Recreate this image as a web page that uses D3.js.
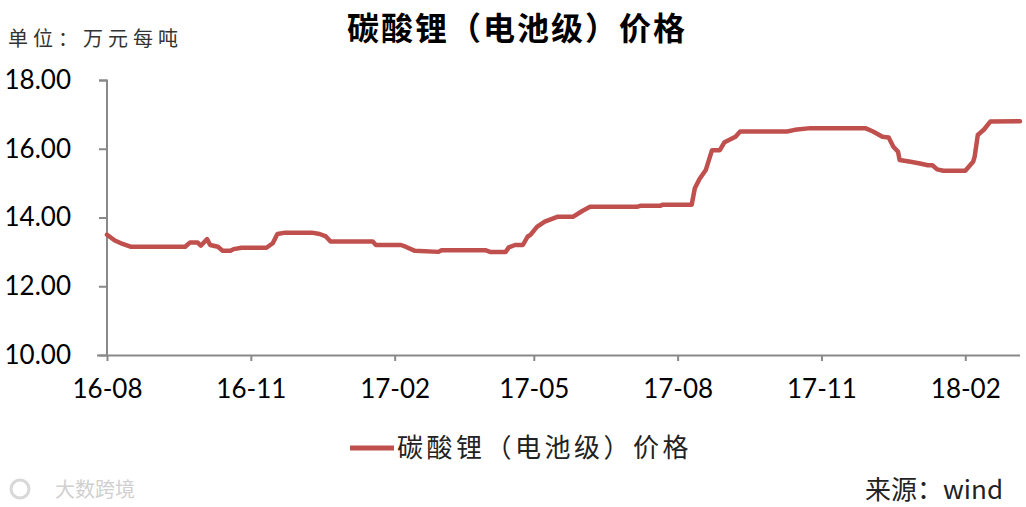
<!DOCTYPE html>
<html lang="zh">
<head>
<meta charset="UTF-8">
<title>碳酸锂（电池级）价格</title>
<script src="https://d3js.org/d3.v7.min.js"></script>
<style>
    body { margin: 0; background: #fff; }
    svg { display: block; }
    .tick-label { font-family: Lato, "Noto Sans", sans-serif; font-size: 26px; fill: #000; }
    .cjk { font-family: "Noto Sans CJK SC", sans-serif; }
</style>
</head>
<body>
<svg id="chart" width="1026" height="507"></svg>
<script>
// price of battery-grade lithium carbonate, 万元/吨
var dates = ["2016-08-01","2016-08-06","2016-08-11","2016-08-16","2016-09-20","2016-09-23","2016-09-28","2016-09-30",
    "2016-10-04","2016-10-06","2016-10-11","2016-10-14","2016-10-19","2016-10-21","2016-10-26","2016-11-11",
    "2016-11-15","2016-11-18","2016-11-23","2016-12-10","2016-12-15","2016-12-19","2016-12-22","2017-01-18",
    "2017-01-20","2017-02-05","2017-02-08","2017-02-14","2017-03-01","2017-03-03","2017-03-31","2017-04-03",
    "2017-04-13","2017-04-15","2017-04-19","2017-04-24","2017-04-27","2017-04-29","2017-05-03","2017-05-08",
    "2017-05-16","2017-05-26","2017-06-01","2017-06-06","2017-07-06","2017-07-08","2017-07-21","2017-07-22",
    "2017-08-10","2017-08-12","2017-08-15","2017-08-19","2017-08-23","2017-08-28","2017-08-31","2017-09-07",
    "2017-09-10","2017-10-10","2017-10-15","2017-10-25","2017-11-29","2017-12-04","2017-12-10","2017-12-14",
    "2017-12-17","2017-12-20","2017-12-21","2017-12-28","2018-01-03","2018-01-08","2018-01-11","2018-01-14",
    "2018-01-18","2018-02-01","2018-02-06","2018-02-07","2018-02-09","2018-02-13","2018-02-17","2018-03-08"];
var prices = [13.50,13.33,13.23,13.15,13.15,13.27,13.27,13.18,
    13.37,13.20,13.15,13.03,13.03,13.08,13.12,13.12,
    13.25,13.52,13.56,13.56,13.52,13.45,13.30,13.30,
    13.20,13.20,13.15,13.03,13.00,13.05,13.05,13.00,
    13.00,13.13,13.20,13.20,13.44,13.50,13.73,13.88,
    14.02,14.02,14.19,14.31,14.31,14.34,14.34,14.37,
    14.37,14.85,15.12,15.38,15.96,15.96,16.19,16.35,
    16.50,16.50,16.55,16.60,16.60,16.50,16.35,16.33,
    16.06,15.91,15.67,15.62,15.57,15.52,15.52,15.40,
    15.36,15.36,15.62,15.77,16.40,16.56,16.79,16.80];
var yTicks = [10, 12, 14, 16, 18];
var xTickLabels = ["16-08","16-11","17-02","17-05","17-08","17-11","18-02"];
var seriesName = "碳酸锂（电池级）价格";

var parse = d3.timeParse("%Y-%m-%d");
var data = dates.map(function(d, i) { return { date: parse(d), value: prices[i] }; });

var svg = d3.select("#chart");
var lineColor = "#C0504D", axisColor = "#898989";

var x = d3.scaleTime()
    .domain([parse("2016-08-01"), parse("2018-03-08")])
    .range([107, 1020]);
var y = d3.scaleLinear().domain([10, 18]).range([355, 80]);

var xTicks = xTickLabels.map(function(s) { return parse("20" + s + "-01"); });

// x axis
var xAxis = svg.append("g")
    .attr("transform", "translate(0,355)")
    .call(d3.axisBottom(x).tickValues(xTicks).tickSize(6).tickPadding(19)
        .tickFormat(function(d, i) { return xTickLabels[i]; }));
xAxis.select(".domain").attr("d", "M97,0.5H1020").attr("stroke", axisColor).attr("stroke-width", 2);
xAxis.selectAll(".tick line").attr("stroke", axisColor).attr("stroke-width", 2);
xAxis.selectAll(".tick text").attr("class", "tick-label");

// y axis
var yAxis = svg.append("g")
    .attr("transform", "translate(107,0)")
    .call(d3.axisLeft(y).tickValues(yTicks).tickSize(8).tickPadding(28)
        .tickFormat(d3.format(".2f")));
yAxis.select(".domain").attr("d", "M-8,80.5H0V355").attr("stroke", axisColor).attr("stroke-width", 2);
yAxis.selectAll(".tick line").attr("stroke", axisColor).attr("stroke-width", 2);
yAxis.selectAll(".tick text").attr("class", "tick-label");

// series
var line = d3.line()
    .x(function(d) { return x(d.date); })
    .y(function(d) { return y(d.value); });
svg.append("path")
    .datum(data)
    .attr("d", line)
    .attr("fill", "none")
    .attr("stroke", lineColor)
    .attr("stroke-width", 4.5)
    .attr("stroke-linejoin", "round")
    .attr("stroke-linecap", "round");

// titles
svg.append("text").attr("class", "cjk")
    .attr("x", 517).attr("y", 40)
    .attr("text-anchor", "middle")
    .style("font-size", "32px").style("font-weight", "bold").style("letter-spacing", "2px")
    .text(seriesName);
svg.append("text").attr("class", "cjk")
    .attr("x", 8).attr("y", 46)
    .style("font-size", "20px").style("letter-spacing", "5px").attr("fill", "#333")
    .text("单位：万元每吨");

// legend
svg.append("line")
    .attr("x1", 350).attr("x2", 394).attr("y1", 448).attr("y2", 448)
    .attr("stroke", lineColor).attr("stroke-width", 5);
svg.append("text").attr("class", "cjk")
    .attr("x", 397).attr("y", 457)
    .style("font-size", "26px").style("letter-spacing", "3.5px").attr("fill", "#222")
    .text(seriesName);

// source + watermark
svg.append("text").attr("class", "cjk")
    .attr("x", 1003).attr("y", 499)
    .attr("text-anchor", "end")
    .style("font-size", "26px").attr("fill", "#222")
    .text("来源：wind");
svg.append("circle").attr("cx", 20).attr("cy", 489).attr("r", 9)
    .attr("fill", "none").attr("stroke", "#d8d8d8").attr("stroke-width", 3);
svg.append("text").attr("class", "cjk")
    .attr("x", 55).attr("y", 497)
    .style("font-size", "20px").attr("fill", "#d0d0d0")
    .text("大数跨境");
</script>
</body>
</html>
